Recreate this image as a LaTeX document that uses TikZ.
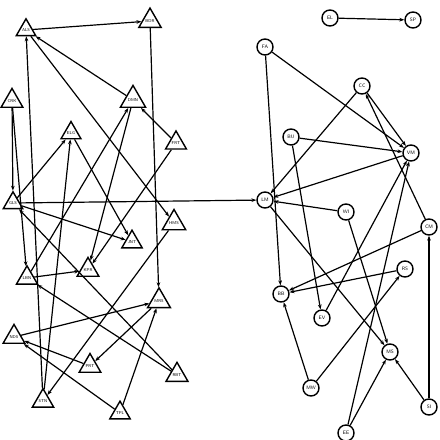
\documentclass[tikz,border=0pt]{standalone}
\usetikzlibrary{shapes.geometric,arrows.meta}
\begin{document}
\begin{tikzpicture}[x=0.025cm, y=-0.025cm,
        tri/.style={regular polygon, regular polygon sides=3, draw, line width=1pt, minimum size=0.5cm, inner sep=0pt, font=\sffamily\fontsize{3}{3.5}\selectfont},
        circ/.style={circle, draw, line width=1pt, minimum size=0.4cm, inner sep=0pt, font=\sffamily\fontsize{3.5}{4}\selectfont},
        arrow/.style={-{Stealth[length=3.5pt, width=2.6pt]}, line width=0.85pt}
    ]
        \useasboundingbox (0,0) rectangle (440,440);
        % left group
        \node[tri] (als) at (26, 30) {ALS};
        \node[tri] (bdr) at (150, 21) {BDR};
        \node[tri] (crk) at (12, 101) {CRK};
        \node[tri] (dmn) at (133, 100) {DMN};
        \node[tri] (elg) at (71, 133) {ELG};
        \node[tri] (frt) at (176, 143) {FRT};
        \node[tri] (gls) at (13, 203) {GLS};
        \node[tri] (hms) at (174, 223) {HMS};
        \node[tri] (jnt) at (132, 242) {JNT};
        \node[tri] (kpr) at (88, 270) {KPR};
        \node[tri] (lbn) at (27, 278) {LBN};
        \node[tri] (mrs) at (159, 301) {MRS};
        \node[tri] (nds) at (14, 337) {NDS};
        \node[tri] (prt) at (90, 366) {PRT};
        \node[tri] (rbt) at (177, 375) {RBT};
        \node[tri] (stn) at (43, 401) {STN};
        \node[tri] (tpl) at (120, 413) {TPL};
        % right group
        \node[circ] (el) at (330, 18) {EL};
        \node[circ] (sp) at (413, 20) {SP};
        \node[circ] (fa) at (265, 47) {FA};
        \node[circ] (cc) at (362, 86) {CC};
        \node[circ] (bu) at (291, 137) {BU};
        \node[circ] (vm) at (411, 153) {VM};
        \node[circ] (lm) at (265, 200) {LM};
        \node[circ] (wi) at (346, 212) {WI};
        \node[circ] (cm) at (429, 227) {CM};
        \node[circ] (rs) at (405, 269) {RS};
        \node[circ] (bb) at (281, 294) {BB};
        \node[circ] (ev) at (322, 318) {EV};
        \node[circ] (ms) at (390, 352) {MS};
        \node[circ] (mw) at (311, 388) {MW};
        \node[circ] (si) at (429, 407) {SI};
        \node[circ] (ee) at (346, 433) {EE};

        % left connectors
        \draw[arrow] (als) -- (bdr);
        \draw[arrow] (bdr) -- (mrs);
        \draw[arrow] (dmn) -- (als);
        \draw[arrow] (als) -- (hms);
        \draw[arrow] (stn) -- (als);
        \draw[arrow] (crk) -- (gls);
        \draw[arrow] (crk) -- (lbn);
        \draw[arrow] (lbn) -- (dmn);
        \draw[arrow] (dmn) -- (kpr);
        \draw[arrow] (frt) -- (dmn);
        \draw[arrow] (frt) -- (kpr);
        \draw[arrow] (gls) -- (elg);
        \draw[arrow] (elg) -- (jnt);
        \draw[arrow] (stn) -- (elg);
        \draw[arrow] (gls) -- (jnt);
        \draw[arrow] (rbt) -- (gls);
        \draw[arrow] (rbt) -- (lbn);
        \draw[arrow] (lbn) -- (kpr);
        \draw[arrow] (hms) -- (stn);
        \draw[arrow] (nds) -- (mrs);
        \draw[arrow] (mrs) -- (prt);
        \draw[arrow] (tpl) -- (mrs);
        \draw[arrow] (prt) -- (nds);
        \draw[arrow] (tpl) -- (nds);
        % across
        \draw[arrow] (gls) -- (lm);
        % right connectors
        \draw[arrow] (el) -- (sp);
        \draw[arrow] (fa) -- (bb);
        \draw[arrow] (fa) -- (vm);
        \draw[arrow] (cc) -- (lm);
        \draw[arrow] (cc) -- (vm);
        \draw[arrow] (cm) -- (cc);
        \draw[arrow] (bu) -- (vm);
        \draw[arrow] (bu) -- (ev);
        \draw[arrow] (vm) -- (lm);
        \draw[arrow] (ev) -- (vm);
        \draw[arrow] (ee) -- (vm);
        \draw[arrow] (ee) -- (ms);
        \draw[arrow] (si) -- (ms);
        \draw[arrow] (si) -- (cm);
        \draw[arrow] (cm) -- (bb);
        \draw[arrow] (rs) -- (bb);
        \draw[arrow] (wi) -- (lm);
        \draw[arrow] (wi) -- (ms);
        \draw[arrow] (lm) -- (ms);
        \draw[arrow] (mw) -- (bb);
        \draw[arrow] (mw) -- (rs);
    \end{tikzpicture}
\end{document}
